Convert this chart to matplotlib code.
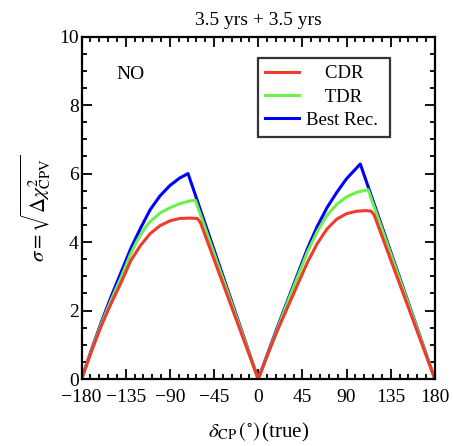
import matplotlib
matplotlib.use("Agg")
import matplotlib.pyplot as plt
from matplotlib.ticker import MultipleLocator

plt.rcParams['font.family'] = ['Liberation Serif', 'DejaVu Serif']
plt.rcParams['mathtext.fontset'] = 'stix'

# Werte
cdr_x = [-180, -170, -160, -150, -140, -130, -120, -110, -100, -90, -80, -70, -62, -59, 0,
         10, 20, 30, 40, 50, 60, 70, 80, 90, 100, 110, 115, 118, 180]
cdr_y = [0, 0.8, 1.55, 2.2, 2.8, 3.45, 3.9, 4.25, 4.48, 4.62, 4.69, 4.7, 4.69, 4.58, 0,
         0.74, 1.45, 2.1, 2.75, 3.4, 3.95, 4.38, 4.67, 4.83, 4.9, 4.92, 4.9, 4.8, 0]

tdr_x = [-180, -170, -160, -150, -140, -130, -124, -120, -114, -110, -100, -90, -80, -70, -64, 0,
         10, 20, 30, 40, 50, 60, 70, 80, 90, 100, 112, 180]
tdr_y = [0, 0.82, 1.6, 2.3, 2.95, 3.65, 4.0, 4.2, 4.47, 4.6, 4.85, 5.0, 5.12, 5.2, 5.22, 0,
         0.76, 1.5, 2.25, 2.98, 3.7, 4.3, 4.78, 5.1, 5.32, 5.45, 5.53, 0]

best_x = [-180, -170, -160, -150, -140, -130, -120, -110, -100, -90, -80, -71.5, 0,
          10, 20, 30, 40, 50, 60, 70, 80, 90, 104, 180]
best_y = [0, 0.85, 1.65, 2.4, 3.1, 3.8, 4.4, 4.95, 5.35, 5.65, 5.87, 6.0, 0,
          0.78, 1.55, 2.3, 3.05, 3.8, 4.45, 5.0, 5.45, 5.85, 6.28, 0]

xticks = [-180, -135, -90, -45, 0, 45, 90, 135, 180]

fig = plt.figure(figsize=(4.53, 4.46), dpi=100)
ax = fig.add_axes([0.180, 0.150, 0.780, 0.768])

ax.plot(best_x, best_y, color='#0000ff', lw=2.2, label='Best Rec.')
ax.plot(tdr_x, tdr_y, color='#6cf04a', lw=2.2, label='    TDR    ')
ax.plot(cdr_x, cdr_y, color='#ee3b2c', lw=2.2, label='    CDR    ')

ax.set_xlim(-180, 180)
ax.set_ylim(0, 10)
ax.set_xticks(xticks)
ax.set_xticklabels([str(t).replace('-', '\u2212') for t in xticks])
ax.xaxis.set_minor_locator(MultipleLocator(9))
ax.yaxis.set_major_locator(MultipleLocator(2))
ax.yaxis.set_minor_locator(MultipleLocator(0.5))
ax.tick_params(which='both', direction='in', top=True, right=True, width=1.3,
               labelsize=14)
ax.tick_params(axis='x', pad=7)
ax.tick_params(axis='y', pad=2)
ax.tick_params(which='major', length=7)
ax.tick_params(which='minor', length=3.5)
for s in ax.spines.values():
    s.set_linewidth(1.6)

ax.set_title('3.5 yrs + 3.5 yrs', fontsize=14, pad=8)
ax.set_xlabel(r'$\delta_{\rm CP}\,(^{\circ})\,$(true)', fontsize=15, labelpad=11)
ax.set_ylabel(r'$\sigma = \sqrt{\Delta\chi^2_{\rm CPV}}$', fontsize=15, labelpad=4)

ax.text(-130, 8.9, 'NO', fontsize=14, ha='center', va='center')

h, l = ax.get_legend_handles_labels()
leg = ax.legend(h[::-1], l[::-1], loc='upper left', bbox_to_anchor=(0.499, 0.938),
                fontsize=13.5, frameon=True, fancybox=False, edgecolor='black',
                handlelength=1.8, handletextpad=0.35, labelspacing=0.33,
                borderpad=0.4, borderaxespad=0)
leg.get_frame().set_linewidth(1.6)

fig.savefig('out.png', dpi=100)
